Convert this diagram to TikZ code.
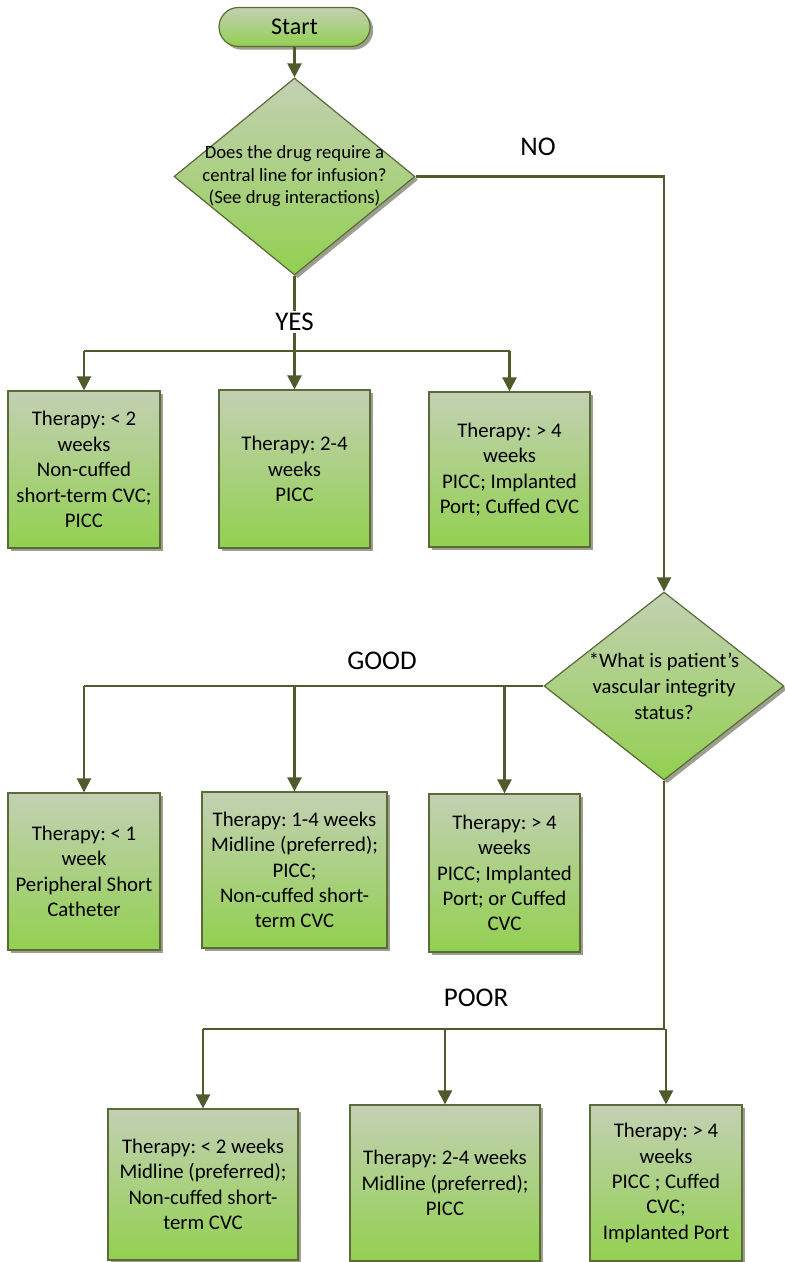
\documentclass[tikz,border=0pt]{standalone}
\usepackage{fontspec}
\setmainfont{Carlito}
\usetikzlibrary{arrows.meta,calc,positioning,shapes.geometric,shadows}
\definecolor{Olive}{HTML}{4F5B2C}
\definecolor{Edge}{HTML}{5A6A38}
\definecolor{Sage}{HTML}{C3D0B3}
\definecolor{Leaf}{HTML}{92D050}
\definecolor{Shade}{HTML}{9C9E8E}
\frenchspacing

\begin{document}
\begin{tikzpicture}[x=0.5pt,y=-0.5pt,
        every node/.style={align=center},
        card/.style={draw=Edge,line width=0.6pt,top color=Sage,bottom color=Leaf,
          drop shadow={shadow xshift=1.6pt,shadow yshift=-1.6pt,fill=Shade,opacity=1}},
        box/.style={card,rectangle,inner sep=2pt,font=\fontsize{10.4}{12.7}\selectfont},
        decision/.style={card,diamond,inner sep=0pt},
        qtext/.style={inner sep=0pt},
        lbl/.style={fill=white,inner sep=1pt,font=\fontsize{13.5}{16}\selectfont},
        wire/.style={draw=Olive,line width=1.2pt},
        flow/.style={wire,-{Triangle[length=7pt,width=7pt]}}]
  \useasboundingbox (0,0) rectangle (784,1262);

  % start and the two questions
  \node[card,rounded corners=9.75pt,minimum width=75.5pt,minimum height=19.5pt,
    font=\fontsize{12}{14}\selectfont] (start) at (294.5,27) {Start};
  \node[decision,minimum width=120.5pt,minimum height=98.5pt] (q1) at (294.5,176.5) {};
  \node[qtext,font=\fontsize{9.35}{11.25}\selectfont] (q1txt) at (q1)
    {Does the drug require a\\central line for infusion?\\(See drug interactions)};
  \node[decision,minimum width=120pt,minimum height=94pt] (q2) at (664,686) {};
  \node[qtext,font=\fontsize{10.3}{13}\selectfont] (q2txt) at (q2)
    {*What is patient’s\\vascular integrity\\status?};

  % central line
  \node[box,minimum width=76pt,minimum height=78.5pt] (b1) at (84,469.5)
    {Therapy: < 2\\weeks\\Non-cuffed\\short-term CVC;\\PICC};
  \node[box,minimum width=75.5pt,minimum height=79pt] (b2) at (294.5,469)
    {Therapy: 2-4\\weeks\\PICC};
  \node[box,minimum width=80.5pt,minimum height=77.5pt] (b3) at (509.5,469.5)
    {Therapy: > 4\\weeks\\PICC; Implanted\\Port; Cuffed CVC};

  % good veins
  \node[box,minimum width=76pt,minimum height=78.5pt] (b4) at (84,871.5)
    {Therapy: < 1\\week\\Peripheral Short\\Catheter};
  \node[box,minimum width=92.5pt,minimum height=78pt] (b5) at (294.5,870)
    {Therapy: 1-4 weeks\\Midline (preferred);\\PICC;\\Non-cuffed short-\\term CVC};
  \node[box,minimum width=75.5pt,minimum height=79pt] (b6) at (504.5,873)
    {Therapy: > 4\\weeks\\PICC; Implanted\\Port; or Cuffed\\CVC};

  % poor veins
  \node[box,minimum width=95pt,minimum height=75.5pt] (b7) at (203,1184.5)
    {Therapy: < 2 weeks\\Midline (preferred);\\Non-cuffed short-\\term CVC};
  \node[box,minimum width=95pt,minimum height=78pt] (b8) at (445,1183)
    {Therapy: 2-4 weeks\\Midline (preferred);\\PICC};
  \node[box,minimum width=76pt,minimum height=78pt] (b9) at (666,1183)
    {Therapy: > 4\\weeks\\PICC ; Cuffed\\CVC;\\Implanted Port};

  \coordinate (yj) at (294.5,351);
  \coordinate (pj) at (664,1029);

  \draw[flow] (start) -- (q1);
  \draw[wire] (q1.south) -- (yj);
  \draw[wire] (b1.north |- yj) -- (b3.north |- yj);
  \foreach \b in {b1,b2,b3}
    \draw[flow] (\b.north |- yj) -- (\b.north);
  \draw[flow] (q1.east) -| (q2.north);
  \draw[wire] (q2.west) -- (b4.north |- q2.west);
  \foreach \b in {b4,b5,b6}
    \draw[flow] (\b.north |- q2.west) -- (\b.north);
  \draw[wire] (q2.south) -- (pj) -- (b7.north |- pj);
  \foreach \b in {b7,b8,b9}
    \draw[flow] (\b.north |- pj) -- (\b.north);

  \node[lbl] (yes) at (294.5,322) {YES};
  \node[lbl] (no) at (538,147) {NO};
  \node[lbl] (good) at (382,661) {GOOD};
  \node[lbl] (poor) at (476,998) {POOR};
\end{tikzpicture}
\end{document}
